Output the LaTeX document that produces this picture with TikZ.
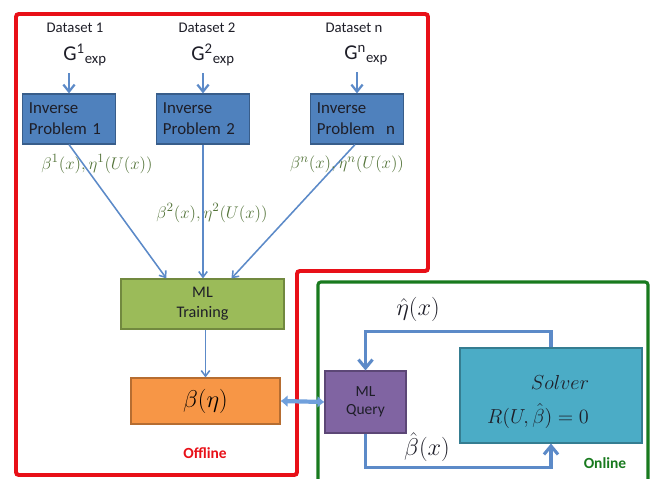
\documentclass[tikz,border=0pt]{standalone}
\usepackage{fontspec}
\setmainfont{Carlito}
\usetikzlibrary{arrows.meta, positioning}
\definecolor{frred}{RGB}{232,16,24}
\definecolor{frgreen}{RGB}{24,122,30}
\definecolor{invblue}{RGB}{79,129,189}
\definecolor{invdark}{RGB}{56,93,138}
\definecolor{lnblue}{RGB}{92,138,200}
\definecolor{dblblue}{RGB}{112,160,220}
\definecolor{mlgreen}{RGB}{155,187,89}
\definecolor{mldark}{RGB}{113,137,63}
\definecolor{myorange}{RGB}{247,150,70}
\definecolor{ordark}{RGB}{182,109,49}
\definecolor{mypurple}{RGB}{128,100,162}
\definecolor{pudark}{RGB}{92,71,118}
\definecolor{myteal}{RGB}{75,172,198}
\definecolor{tedark}{RGB}{53,125,145}
\definecolor{lblgreen}{RGB}{84,116,58}
\definecolor{txtdark}{RGB}{30,30,40}
\tikzset{
  dslabel/.style={font=\fontsize{10.5}{12}\selectfont, text=txtdark},
  gexp/.style={font=\fontsize{15}{18}\selectfont, text=txtdark, inner sep=2pt},
  invbox/.style={rectangle, draw=invdark, fill=invblue, line width=0.8pt,
    text width=2.0cm, inner xsep=0.17cm, minimum height=1.25cm, align=left,
    font=\fontsize{12}{15}\selectfont, text=txtdark},
  mlbox/.style={rectangle, draw=mldark, fill=mlgreen, line width=0.8pt,
    minimum width=4.075cm, minimum height=1.25cm, align=center,
    font=\fontsize{11.5}{14}\selectfont, text=txtdark},
  betabox/.style={rectangle, draw=ordark, fill=myorange, line width=0.8pt,
    minimum width=3.725cm, minimum height=1.15cm, font=\fontsize{18}{20}\selectfont},
  querybox/.style={rectangle, draw=pudark, fill=mypurple, line width=0.8pt,
    minimum width=2.025cm, minimum height=1.55cm, align=center,
    font=\fontsize{11}{13}\selectfont, text=txtdark},
  solverbox/.style={rectangle, draw=tedark, fill=myteal, line width=0.8pt,
    minimum width=4.55cm, minimum height=2.375cm, align=center,
    font=\fontsize{14}{24}\selectfont, text=txtdark},
  mathlbl/.style={font=\fontsize{13}{15}\selectfont, text=lblgreen},
  hatlbl/.style={font=\fontsize{16}{18}\selectfont, text=txtdark},
  inarrow/.style={-{Straight Barb[length=5pt,width=8pt]}, line width=1.6pt, color=lnblue, shorten <=3pt},
  thinarrow/.style={-{Straight Barb[length=4pt,width=6pt]}, line width=1.1pt, color=lnblue},
  looparrow/.style={-{Straight Barb[length=6pt,width=10pt]}, line width=2.2pt, color=lnblue},
  dblarrow/.style={{Latex[length=5pt,width=9pt]}-{Latex[length=5pt,width=9pt]}, line width=3pt, color=dblblue},
  frame/.style={line width=2.8pt, rounded corners=2pt}
}
\begin{document}
\begin{tikzpicture}[x=0.025cm, y=-0.025cm]
  \useasboundingbox (0,0) rectangle (652,479);
  % offline and online frames
  \draw[frame, frred] (16,14) -- (428,14) -- (428,271) -- (297,271) -- (297,475) -- (16,475) -- cycle;
  \draw[frame, frgreen, line width=2.2pt] (318,484) -- (318,282) -- (648,282) -- (648,484);

  % datasets
  \node[dslabel] (ds1) at (75,28) {Dataset 1};
  \node[dslabel] (ds2) at (207,28) {Dataset 2};
  \node[dslabel] (dsn) at (354,28) {Dataset n};
  \node[gexp] (g1) at (70,55) {G\rlap{\textsuperscript{1}\textsubscript{exp}}};
  \node[gexp] (g2) at (198,55) {G\rlap{\textsuperscript{2}\textsubscript{exp}}};
  \node[gexp] (gn) at (351,55) {G\rlap{\textsuperscript{n}\textsubscript{exp}}};

  % inverse problems
  \node[invbox] (ip1) at (69,119) {Inverse\\Problem 1};
  \node[invbox] (ip2) at (203,119) {Inverse\\Problem 2};
  \node[invbox] (ipn) at (357,119) {Inverse\\Problem~~n};
  \draw[inarrow] (g1.south -| ip1.north) -- (ip1.north);
  \draw[inarrow] (g2.south -| ip2.north) -- (ip2.north);
  \draw[inarrow] (gn.south -| ipn.north) -- (ipn.north);

  % training
  \node[mlbox] (mlt) at (202.5,304) {ML\\Training};
  \draw[thinarrow] (ip1.south) -- ([xshift=1.15cm]mlt.north west);
  \draw[thinarrow] (ip2.south) -- (ip2.south |- mlt.north);
  \draw[thinarrow] ([xshift=-0.05cm]ipn.south) -- ([xshift=2.775cm]mlt.north west);
  \node[mathlbl] (lb1) at (97,164) {$\beta^1(x),\eta^1(U(x))$};
  \node[mathlbl] (lb2) at (212,213) {$\beta^2(x),\eta^2(U(x))$};
  \node[mathlbl] (lbn) at (347,164) {$\beta^n(x),\eta^n(U(x))$};

  \node[betabox] (be) at (205.5,401) {$\beta(\eta)$};
  \draw[thinarrow] (mlt.south -| be.north) -- (be.north);
  \node[font=\fontsize{11}{13}\selectfont\bfseries, text=frred] (off) at (205,453) {Offline};

  % online loop
  \node[querybox] (mq) at (365.5,402) {ML\\Query};
  \node[solverbox] (sv) at (551,395.5) {\rule{0pt}{19pt}\hspace*{0.45cm}$Solver$\\\hspace*{-0.65cm}$R(U,\hat{\beta})=0$};
  \draw[dblarrow] (be.east) -- (mq.west);
  \draw[looparrow] (sv.north) -- ++(0,-16) -| (mq.north);
  \draw[looparrow] (mq.south) -- ++(0,34) -| (sv.south);
  \node[hatlbl] (eh) at (418,309) {$\hat{\eta}(x)$};
  \node[hatlbl] (bh) at (427,447) {$\hat{\beta}(x)$};
  \node[font=\fontsize{11}{13}\selectfont\bfseries, text=frgreen] (on) at (605,463) {Online};
\end{tikzpicture}
\end{document}
